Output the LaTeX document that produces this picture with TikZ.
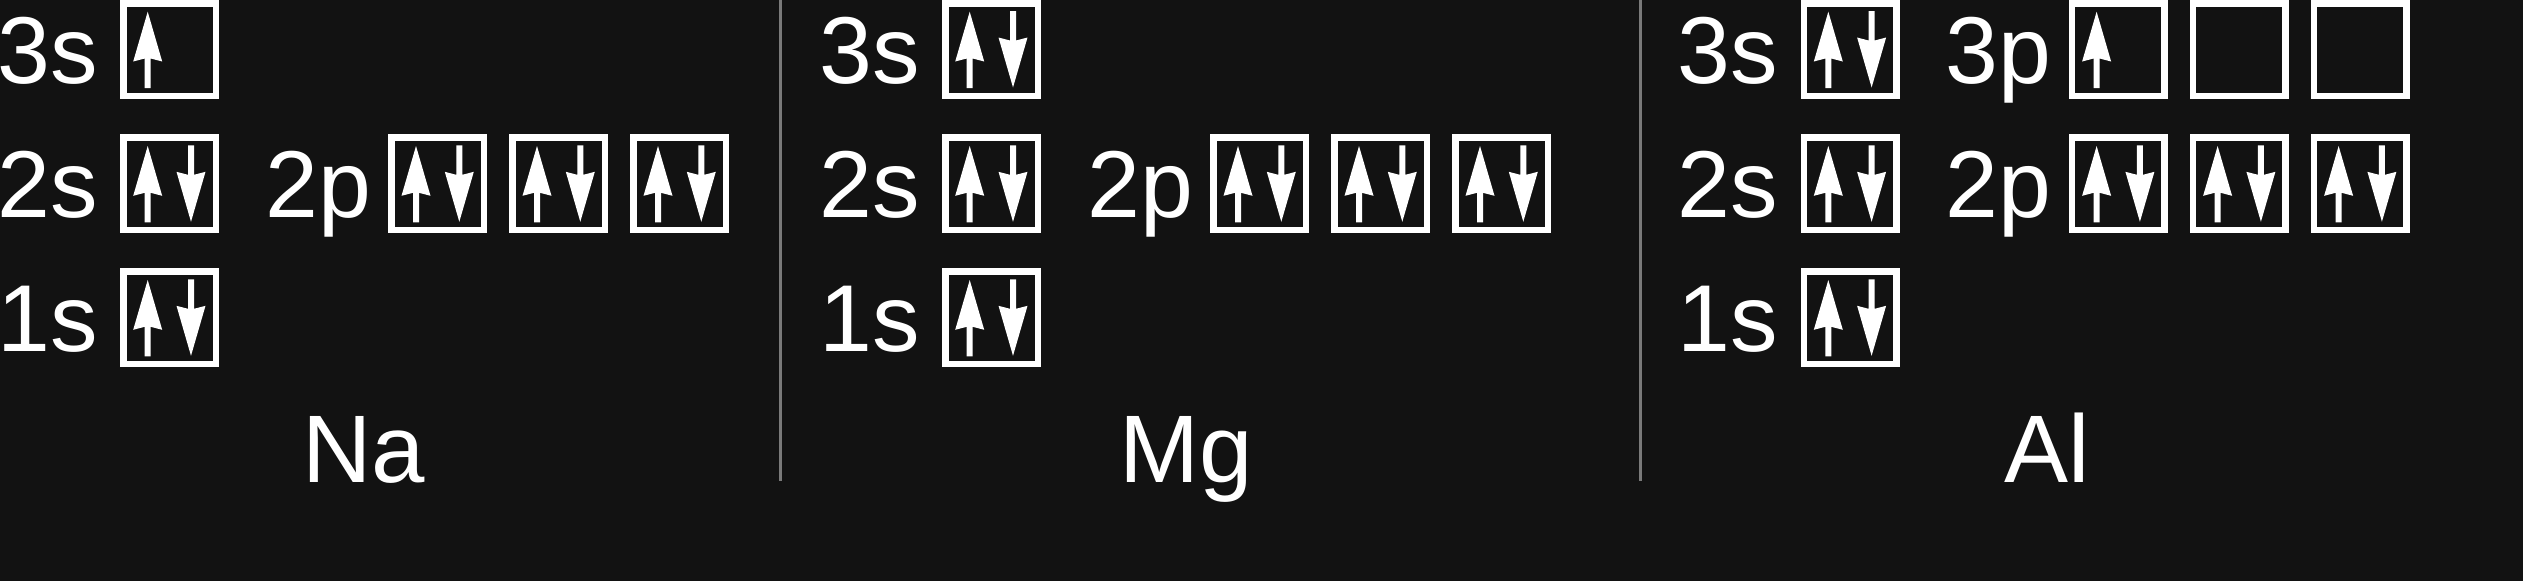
\documentclass[tikz,border=0pt]{standalone}
\usepackage{fontspec}
\setmainfont{Liberation Sans}
\usetikzlibrary{calc}
\definecolor{bg}{HTML}{121212}
\definecolor{divider}{HTML}{7A7A7A}
\tikzset{
  orb/.style={shape=rectangle, draw=white, line width=6.5pt, minimum width=92.5pt, minimum height=92.5pt, inner sep=0pt, outer sep=0pt},
  lbl/.style={text=white, anchor=base west, inner sep=0pt, font=\fontsize{95}{110}\selectfont},
  elem/.style={text=white, anchor=base, inner sep=0pt, font=\fontsize{96}{110}\selectfont},
  sepline/.style={draw=divider, line width=3pt},
  spinup/.pic={\fill[white] (-21.8,-37.8) -- (-7.3,12) -- (-18.8,9) -- (-18.8,38.5) -- (-24.8,38.5) -- (-24.8,9) -- (-36.3,12) -- cycle;},
  spindown/.pic={\fill[white] (18.5,-38.5) -- (24.5,-38.5) -- (24.5,-9) -- (36,-12) -- (21.5,38) -- (7,-12) -- (18.5,-9) -- cycle;},
}
\begin{document}
\begin{tikzpicture}[x=1pt,y=-1pt]
\path[fill=bg, use as bounding box] (0,0) rectangle (2523,581);

% dividers
\draw[sepline] (780.8,0) -- (780.8,481);
\draw[sepline] (1640,0) -- (1640,481);

% ---------- Na ----------
\node[lbl] (na3sl) at (-3,83) {3s};
\node[lbl] (na2sl) at (-3,217.3) {2s};
\node[lbl] (na2pl) at (265,217.3) {2p};
\node[lbl] (na1sl) at (-3,351.3) {1s};
\node[orb] (na3s) at (169.5,49.5) {};
\node[orb] (na2s) at (169.5,183.8) {};
\node[orb] (na2px) at (437.8,183.8) {};
\node[orb] (na2py) at (558.8,183.8) {};
\node[orb] (na2pz) at (679.8,183.8) {};
\node[orb] (na1s) at (169.5,317.8) {};
\node[elem] (na) at (364,482) {Na};

% ---------- Mg ----------
\node[lbl] (mg3sl) at (819,83) {3s};
\node[lbl] (mg2sl) at (819,217.3) {2s};
\node[lbl] (mg2pl) at (1087,217.3) {2p};
\node[lbl] (mg1sl) at (819,351.3) {1s};
\node[orb] (mg3s) at (991.5,49.5) {};
\node[orb] (mg2s) at (991.5,183.8) {};
\node[orb] (mg2px) at (1259.8,183.8) {};
\node[orb] (mg2py) at (1380.8,183.8) {};
\node[orb] (mg2pz) at (1501.8,183.8) {};
\node[orb] (mg1s) at (991.5,317.8) {};
\node[elem] (mg) at (1186,482) {Mg};

% ---------- Al ----------
\node[lbl] (al3sl) at (1677.6,83) {3s};
\node[lbl] (al3pl) at (1945.6,83) {3p};
\node[lbl] (al2sl) at (1677.6,217.3) {2s};
\node[lbl] (al2pl) at (1945.6,217.3) {2p};
\node[lbl] (al1sl) at (1677.6,351.3) {1s};
\node[orb] (al3s) at (1850.1,49.5) {};
\node[orb] (al3px) at (2118.4,49.5) {};
\node[orb] (al3py) at (2239.4,49.5) {};
\node[orb] (al3pz) at (2360.4,49.5) {};
\node[orb] (al2s) at (1850.1,183.8) {};
\node[orb] (al2px) at (2118.4,183.8) {};
\node[orb] (al2py) at (2239.4,183.8) {};
\node[orb] (al2pz) at (2360.4,183.8) {};
\node[orb] (al1s) at (1850.1,317.8) {};
\node[elem] (al) at (2047,482) {Al};

% electrons
\foreach \b in {na2s,na2px,na2py,na2pz,na1s,mg3s,mg2s,mg2px,mg2py,mg2pz,mg1s,al3s,al2s,al2px,al2py,al2pz,al1s}{
  \pic at (\b.center) {spinup};
  \pic at (\b.center) {spindown};
}
\foreach \b in {na3s,al3px}{
  \pic at (\b.center) {spinup};
}
\end{tikzpicture}
\end{document}
